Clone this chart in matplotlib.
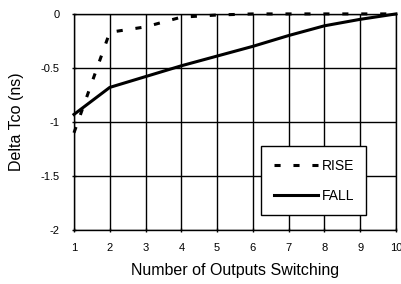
import numpy as np
from matplotlib import pyplot as plt

plt.rcParams['font.family'] = ['Liberation Sans', 'DejaVu Sans']

outputs = [1, 2, 3, 4, 5, 6, 7, 8, 9, 10]
rise = [-1.1, -0.17, -0.12, -0.03, -0.01, 0.0, 0.0, 0.0, 0.0, 0.0]
fall = [-0.93, -0.68, -0.58, -0.48, -0.39, -0.30, -0.20, -0.11, -0.05, 0.0]
yticks = [0, -0.5, -1, -1.5, -2]
ytick_labels = ["0", "-0.5", "-1", "-1.5", "-2"]

fig = plt.figure(figsize=(4.01, 2.84), dpi=100)
ax = fig.add_axes([0.1845, 0.19, 0.803, 0.761])

ax.plot(outputs, rise, color="black", lw=2.2, dashes=(2.0, 4.2), label="RISE", clip_on=False)
ax.plot(outputs, fall, color="black", lw=2.2, label="FALL", clip_on=False)

ax.set_xlim(1, 10)
ax.set_ylim(-2, 0)
ax.set_xticks(outputs)
ax.set_yticks(yticks)
ax.set_yticklabels(ytick_labels)
ax.grid(True, color="black", lw=1.0)
ax.tick_params(labelsize=8, direction="inout", length=3, width=1)
ax.tick_params(axis="y", pad=9)
ax.tick_params(axis="x", pad=8)
for s in ax.spines.values():
    s.set_linewidth(1.0)

ax.set_xlabel("Number of Outputs Switching", fontsize=11.5, labelpad=7)
ax.set_ylabel("Delta Tco (ns)", fontsize=11.5, labelpad=12)

leg = ax.legend(loc="lower left", bbox_to_anchor=(0.581, 0.069), borderaxespad=0,
                fontsize=10, frameon=True, fancybox=False, edgecolor="black", framealpha=1,
                handlelength=3.2, handletextpad=0.25, borderpad=0.9, labelspacing=1.15)
leg.get_frame().set_linewidth(1.0)

fig.savefig("out.png", dpi=100)
